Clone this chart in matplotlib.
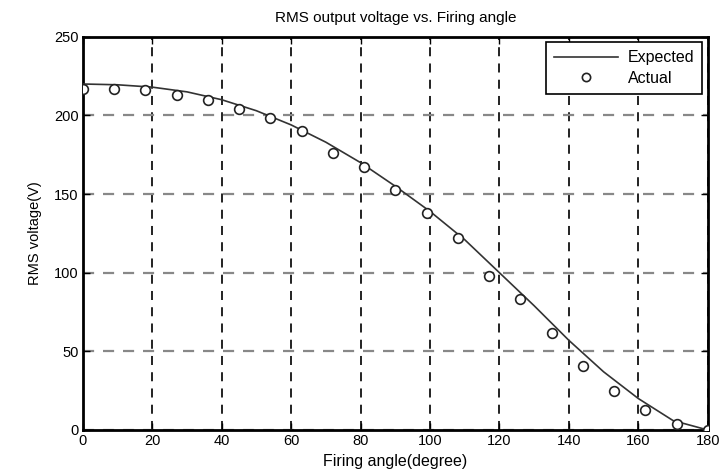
import matplotlib
matplotlib.use("Agg")
import matplotlib.pyplot as plt

plt.rcParams['font.family'] = ['Liberation Sans', 'DejaVu Sans']

# Expected curve
exp_angle = [0, 10, 20, 30, 40, 50, 60, 70, 80, 90, 100, 110, 120, 130, 140, 150, 160, 170, 180]
exp_volt = [220, 219.5, 218, 215, 210, 203, 194, 183, 170, 155, 139, 121, 100, 79, 57, 37, 20, 6, 0]

# Actual measurements
act_angle = [0, 9, 18, 27, 36, 45, 54, 63, 72, 81, 90, 99, 108, 117, 126, 135, 144, 153, 162, 171, 180]
act_volt = [217, 217, 216, 213, 210, 204, 198.5, 190, 176, 167, 152.5, 138, 122, 98, 83, 61.5, 40.5, 25, 12.5, 4, 0]

x_ticks = [0, 20, 40, 60, 80, 100, 120, 140, 160, 180]
y_ticks = [0, 50, 100, 150, 200, 250]

fig = plt.figure(figsize=(7.2, 4.72), dpi=100)
ax = fig.add_axes([0.115, 0.089, 0.868, 0.833])

ax.plot(exp_angle, exp_volt, color='#333333', lw=1.2, label='Expected', zorder=3)
ax.plot(act_angle, act_volt, linestyle='none', marker='o', markersize=7,
        markerfacecolor='white', markeredgecolor='#222222', markeredgewidth=1.2,
        label='Actual', zorder=4)

ax.set_xlim(0, 180)
ax.set_ylim(0, 250)
ax.set_xticks(x_ticks)
ax.set_yticks(y_ticks)
ax.tick_params(direction='in', top=True, right=True, labelsize=10.5, length=5, width=1,
               pad=3)

ax.xaxis.grid(True, linestyle=(0, (5, 4)), color='#111111', lw=1.3)
ax.yaxis.grid(True, linestyle=(0, (5, 4)), color='#888888', lw=1.6)
ax.set_axisbelow(True)

for s in ax.spines.values():
    s.set_linewidth(2)
    s.set_color('black')

ax.set_title('RMS output voltage vs. Firing angle', fontsize=11, pad=11)
ax.set_xlabel('Firing angle(degree)', fontsize=11.5, labelpad=4)
ax.set_ylabel('RMS voltage(V)', fontsize=10.5, labelpad=9)

leg = ax.legend(loc='upper right', fontsize=11.5, frameon=True, fancybox=False,
                edgecolor='black', framealpha=1, handlelength=4.0, borderpad=0.5,
                labelspacing=0.35, handletextpad=0.6, borderaxespad=0.35,
                markerscale=0.85)
leg.get_frame().set_linewidth(1.2)

fig.savefig('out.png', dpi=100)
